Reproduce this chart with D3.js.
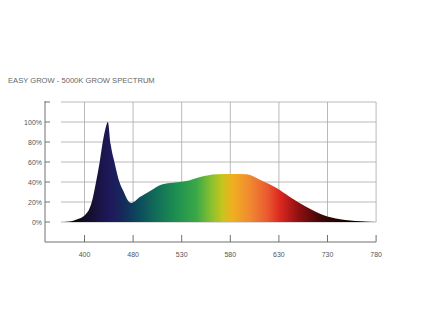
<!DOCTYPE html>
<html><head><meta charset="utf-8">
<script src="https://cdn.jsdelivr.net/npm/d3@7"></script>
<style>body{margin:0;background:#fff}</style>
</head><body>
<svg id="c" width="423" height="318"></svg>
<script>
const title = "EASY GROW - 5000K GROW SPECTRUM";
const xTicks = [400, 480, 530, 580, 630, 730, 780];
const yTicks = [0, 20, 40, 60, 80, 100, 120];
const wavelengths = [366, 376, 387, 401, 412, 419, 425, 430, 434, 438.5, 443, 450, 457.5, 464, 472, 477, 487, 497.5, 508, 518, 528, 535, 549, 566, 580, 597, 611, 628, 652, 686, 721, 743, 764, 780];
const intensity   = [0,   0.4, 2.5, 7,   20,  40,  60,  80,  92,  100,   78,  58,  40,    31,  21,  19,  25,  31,    37,  39,  40,  41,  45,  47.7, 48, 47.7, 42, 33.7, 25.3, 15.3, 7, 2.7, 0.7, 0];

const svg = d3.select("#c");
const x = d3.scaleLinear().domain(xTicks).range(xTicks.map((d, i) => 84.5 + i * 48.6));
const y = d3.scaleLinear().domain([-20, 120]).range([242, 102]);
const gridLeft = 61, gridRight = x(780);

svg.append("text").attr("x", 8).attr("y", 82.8).text(title)
  .attr("font-family", "Liberation Sans, Arial, sans-serif").attr("font-size", 7.6).attr("fill", "#666");

// grid
const g = svg.append("g");
g.selectAll("line.h").data(yTicks).join("line")
  .attr("x1", gridLeft).attr("x2", gridRight).attr("y1", d => y(d)).attr("y2", d => y(d))
  .attr("stroke", "#a8a8a8").attr("stroke-width", 0.8);
g.selectAll("line.v").data(xTicks).join("line")
  .attr("x1", d => x(d)).attr("x2", d => x(d)).attr("y1", y(120)).attr("y2", y(0))
  .attr("stroke", "#a8a8a8").attr("stroke-width", 0.8);

// gradient
const stops = [[366,"#000000"],[410,"#141030"],[432,"#1c1650"],[445,"#1e1a5c"],[465,"#142c5a"],[485,"#0c4a5c"],[505,"#127058"],[525,"#1e9050"],[545,"#3aa848"],[560,"#86c030"],[572,"#c8c41e"],[582,"#f0b020"],[600,"#f08a30"],[618,"#ea5a30"],[632,"#dc2820"],[670,"#901010"],[720,"#3a0606"],[760,"#080000"],[780,"#000000"]];
const grad = svg.append("defs").append("linearGradient").attr("id", "spec")
  .attr("gradientUnits", "userSpaceOnUse").attr("x1", x(366)).attr("x2", x(780)).attr("y1", 0).attr("y2", 0);
const x0 = x(366), x1 = x(780);
grad.selectAll("stop").data(stops).join("stop")
  .attr("offset", d => (x(d[0]) - x0) / (x1 - x0)).attr("stop-color", d => d[1]);

const data = wavelengths.map((w, i) => [w, intensity[i]]);
svg.append("path").datum(data)
  .attr("d", d3.area().x(d => x(d[0])).y0(y(0)).y1(d => y(d[1])).curve(d3.curveMonotoneX))
  .attr("fill", "url(#spec)");

// axes
const ax = "#707070";
svg.append("line").attr("x1", 45).attr("x2", 45).attr("y1", y(120) - 1).attr("y2", y(-20)).attr("stroke", ax);
svg.append("line").attr("x1", 45).attr("x2", x(780)).attr("y1", y(-20)).attr("y2", y(-20)).attr("stroke", ax);
svg.selectAll("line.yt").data(yTicks).join("line")
  .attr("x1", 45).attr("x2", 50).attr("y1", d => y(d)).attr("y2", d => y(d)).attr("stroke", ax);
svg.selectAll("text.yl").data(yTicks.filter(d => d <= 100)).join("text")
  .attr("x", 42).attr("y", d => y(d) + 2.5).attr("text-anchor", "end").text(d => d + "%")
  .attr("font-family", "Liberation Sans, Arial, sans-serif").attr("font-size", 7).attr("fill", "#555");
svg.selectAll("line.xt").data(xTicks).join("line")
  .attr("x1", d => x(d)).attr("x2", d => x(d)).attr("y1", 235).attr("y2", 242).attr("stroke", ax);
svg.selectAll("text.xl").data(xTicks).join("text")
  .attr("x", d => x(d)).attr("y", 257).attr("text-anchor", "middle").text(d => d)
  .attr("font-family", "Liberation Sans, Arial, sans-serif").attr("font-size", 7).attr("fill", "#555");
</script>
</body></html>
